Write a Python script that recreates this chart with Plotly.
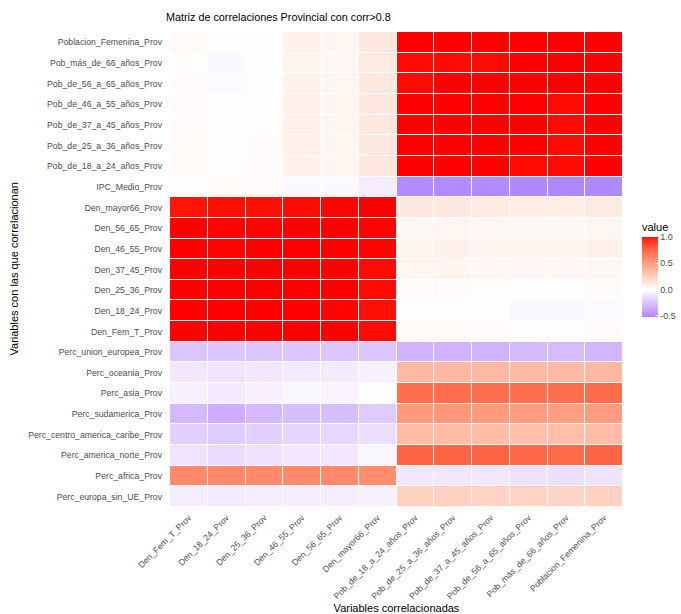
import plotly.graph_objects as go
import numpy as np

x_labels = ["Den_Fem_T_Prov", "Den_18_24_Prov", "Den_25_36_Prov", "Den_46_55_Prov",
            "Den_56_65_Prov", "Den_mayor66_Prov",
            "Pob_de_18_a_24_años_Prov", "Pob_de_25_a_36_años_Prov", "Pob_de_37_a_45_años_Prov",
            "Pob_de_56_a_65_años_Prov", "Pob_más_de_66_años_Prov", "Poblacion_Femenina_Prov"]

y_labels = ["Poblacion_Femenina_Prov", "Pob_más_de_66_años_Prov", "Pob_de_56_a_65_años_Prov",
            "Pob_de_46_a_55_años_Prov", "Pob_de_37_a_45_años_Prov", "Pob_de_25_a_36_años_Prov",
            "Pob_de_18_a_24_años_Prov", "IPC_Medio_Prov", "Den_mayor66_Prov", "Den_56_65_Prov",
            "Den_46_55_Prov", "Den_37_45_Prov", "Den_25_36_Prov", "Den_18_24_Prov", "Den_Fem_T_Prov",
            "Perc_union_europea_Prov", "Perc_oceania_Prov", "Perc_asia_Prov", "Perc_sudamerica_Prov",
            "Perc_centro_america_caribe_Prov", "Perc_america_norte_Prov", "Perc_africa_Prov",
            "Perc_europa_sin_UE_Prov"]

# correlation values, one row per y label (top to bottom), columns as x_labels
r_pob_fem   = [0.03, -0.01, 0.00, 0.07, 0.05, 0.12, 1.00, 1.00, 1.00, 1.00, 1.00, 1.00]
r_pob_66    = [0.01, -0.03, 0.00, 0.06, 0.04, 0.11, 0.99, 0.99, 0.99, 1.00, 1.00, 1.00]
r_pob_56    = [0.02, -0.02, 0.00, 0.07, 0.05, 0.12, 0.99, 1.00, 1.00, 1.00, 1.00, 1.00]
r_pob_46    = [0.02, -0.01, 0.01, 0.07, 0.05, 0.12, 1.00, 1.00, 1.00, 1.00, 0.99, 1.00]
r_pob_37    = [0.02, 0.00, 0.01, 0.07, 0.05, 0.12, 1.00, 1.00, 1.00, 1.00, 0.99, 1.00]
r_pob_25    = [0.03, 0.00, 0.02, 0.08, 0.05, 0.12, 1.00, 1.00, 1.00, 1.00, 0.99, 1.00]
r_pob_18    = [0.03, 0.00, 0.02, 0.07, 0.05, 0.12, 1.00, 1.00, 1.00, 0.99, 0.99, 1.00]
r_ipc       = [0.00, 0.03, 0.02, -0.03, -0.03, -0.08, -0.50, -0.50, -0.50, -0.51, -0.52, -0.51]
r_den_66    = [0.98, 0.985, 0.985, 0.99, 0.995, 1.00, 0.12, 0.12, 0.11, 0.10, 0.10, 0.11]
r_den_56    = [1.00, 0.995, 0.995, 1.00, 1.00, 0.995, 0.04, 0.05, 0.04, 0.04, 0.04, 0.05]
r_den_46    = [1.00, 0.995, 1.00, 1.00, 1.00, 0.995, 0.06, 0.07, 0.06, 0.06, 0.06, 0.07]
r_den_37    = [1.00, 1.00, 1.00, 1.00, 1.00, 0.99, 0.05, 0.06, 0.04, 0.04, 0.04, 0.04]
r_den_25    = [1.00, 1.00, 1.00, 1.00, 1.00, 0.99, 0.02, 0.02, 0.01, 0.00, 0.00, 0.02]
r_den_18    = [1.00, 1.00, 1.00, 1.00, 0.995, 0.985, 0.00, 0.00, -0.01, -0.03, -0.03, -0.02]
r_den_fem   = [1.00, 1.00, 1.00, 1.00, 1.00, 0.99, 0.03, 0.03, 0.02, 0.01, 0.01, 0.02]
r_perc_ue   = [-0.25, -0.24, -0.25, -0.24, -0.24, -0.25, -0.33, -0.33, -0.33, -0.30, -0.29, -0.32]
r_perc_oce  = [-0.10, -0.12, -0.10, -0.09, -0.09, -0.06, 0.37, 0.37, 0.37, 0.36, 0.36, 0.37]
r_perc_asia = [-0.06, -0.09, -0.06, -0.04, -0.05, 0.00, 0.72, 0.72, 0.72, 0.72, 0.72, 0.73]
r_perc_sud  = [-0.30, -0.35, -0.30, -0.28, -0.28, -0.22, 0.52, 0.53, 0.52, 0.51, 0.50, 0.51]
r_perc_cen  = [-0.20, -0.22, -0.20, -0.18, -0.17, -0.14, 0.34, 0.35, 0.34, 0.33, 0.33, 0.34]
r_perc_nor  = [-0.12, -0.15, -0.13, -0.10, -0.10, -0.04, 0.76, 0.76, 0.76, 0.75, 0.74, 0.76]
r_perc_afr  = [0.60, 0.60, 0.60, 0.60, 0.60, 0.58, -0.10, -0.10, -0.10, -0.13, -0.14, -0.12]
r_perc_eur  = [-0.08, -0.09, -0.08, -0.08, -0.08, -0.06, 0.24, 0.24, 0.23, 0.23, 0.22, 0.24]

z = [r_pob_fem, r_pob_66, r_pob_56, r_pob_46, r_pob_37, r_pob_25, r_pob_18, r_ipc,
     r_den_66, r_den_56, r_den_46, r_den_37, r_den_25, r_den_18, r_den_fem,
     r_perc_ue, r_perc_oce, r_perc_asia, r_perc_sud, r_perc_cen, r_perc_nor, r_perc_afr, r_perc_eur]


# --- Lab interpolation (like ggplot2 scale_fill_gradient2 low="blue", mid="white", high="red")
def srgb_to_lab(rgb):
    c = np.array(rgb) / 255.0
    c = np.where(c > 0.04045, ((c + 0.055) / 1.055) ** 2.4, c / 12.92)
    M = np.array([[0.4124, 0.3576, 0.1805], [0.2126, 0.7152, 0.0722], [0.0193, 0.1192, 0.9505]])
    xyz = M @ c
    xyz = xyz / np.array([0.95047, 1.0, 1.08883])
    f = np.where(xyz > 0.008856, np.cbrt(xyz), 7.787 * xyz + 16 / 116)
    return np.array([116 * f[1] - 16, 500 * (f[0] - f[1]), 200 * (f[1] - f[2])])


def lab_to_srgb(lab):
    L, a, b = lab
    fy = (L + 16) / 116
    fx = fy + a / 500
    fz = fy - b / 200
    f = np.array([fx, fy, fz])
    xyz = np.where(f ** 3 > 0.008856, f ** 3, (f - 16 / 116) / 7.787)
    xyz = xyz * np.array([0.95047, 1.0, 1.08883])
    Minv = np.array([[3.2406, -1.5372, -0.4986], [-0.9689, 1.8758, 0.0415], [0.0557, -0.2040, 1.0570]])
    c = Minv @ xyz
    c = np.clip(c, 0, 1)
    c = np.where(c > 0.0031308, 1.055 * c ** (1 / 2.4) - 0.055, 12.92 * c)
    return tuple(int(round(v * 255)) for v in np.clip(c, 0, 1))


lab_low = srgb_to_lab((0, 0, 255))
lab_mid = srgb_to_lab((255, 255, 255))
lab_high = srgb_to_lab((255, 0, 0))

zarr = np.array(z)
zmin = float(zarr.min())
zmax = float(zarr.max())


def color_at(v):
    if v >= 0:
        lab = lab_mid + (lab_high - lab_mid) * v
    else:
        lab = lab_mid + (lab_low - lab_mid) * (-v)
    return "rgb(%d,%d,%d)" % lab_to_srgb(lab)


n = 60
colorscale = []
for i in range(n + 1):
    p = i / n
    v = zmin + (zmax - zmin) * p
    colorscale.append([p, color_at(v)])

L_MARGIN, R_MARGIN, T_MARGIN, B_MARGIN = 170, 58, 32, 107
PW = 681 - L_MARGIN - R_MARGIN
PH = 614 - T_MARGIN - B_MARGIN

fig = go.Figure(go.Heatmap(
    z=z, x=x_labels, y=y_labels,
    zmin=zmin, zmax=zmax,
    colorscale=colorscale,
    xgap=1, ygap=1,
    colorbar=dict(
        title=dict(text="value", font=dict(size=11, color="#000000"), side="top"),
        thickness=16, thicknessmode="pixels",
        len=97, lenmode="pixels",
        x=(642 - L_MARGIN) / PW, xanchor="left", y=(614 - B_MARGIN - 220) / PH, yanchor="top",
        xpad=0, ypad=0,
        tickvals=[-0.5, 0.0, 0.5, 1.0], ticktext=["-0.5", "0.0", "0.5", "1.0"],
        tickfont=dict(size=9, color="#4d4d4d"),
        ticks="inside", ticklen=3, tickcolor="white",
        outlinewidth=0,
    ),
))

fig.update_layout(
    width=681, height=614, autosize=False,
    margin=dict(l=L_MARGIN, r=R_MARGIN, t=T_MARGIN, b=B_MARGIN, autoexpand=False),
    paper_bgcolor="white", plot_bgcolor="white",
    font=dict(family="Liberation Sans, Arial, sans-serif"),
    title=dict(text="Matriz de correlaciones Provincial con corr>0.8",
               x=166 / 681, xanchor="left", y=1 - 17 / 614, yanchor="middle",
               pad=dict(l=0, r=0, t=0, b=0),
               font=dict(size=10.8, color="#000000")),
    xaxis=dict(title=dict(text="Variables correlacionadas", font=dict(size=11, color="#000000")),
               automargin=False, ticklabelstandoff=3,
               tickangle=-45, tickfont=dict(size=8.7, color="#4d4d4d"),
               showgrid=False, zeroline=False, ticks=""),
    yaxis=dict(automargin=False, ticklabelstandoff=7,
               autorange="reversed", tickfont=dict(size=8.7, color="#4d4d4d"),
               showgrid=False, zeroline=False, ticks=""),
    annotations=[dict(text="Variables con las que correlacionan", textangle=-90,
                      xref="paper", yref="paper", x=(13 - L_MARGIN) / PW, y=0.5,
                      xanchor="center", yanchor="middle", showarrow=False,
                      font=dict(size=11, color="#000000"))],
)

fig.write_html("out.html",
               default_width="681px", default_height="614px",
               config=dict(displayModeBar=False),
               post_script="document.body.style.margin='0px';document.body.style.overflow='hidden';")
